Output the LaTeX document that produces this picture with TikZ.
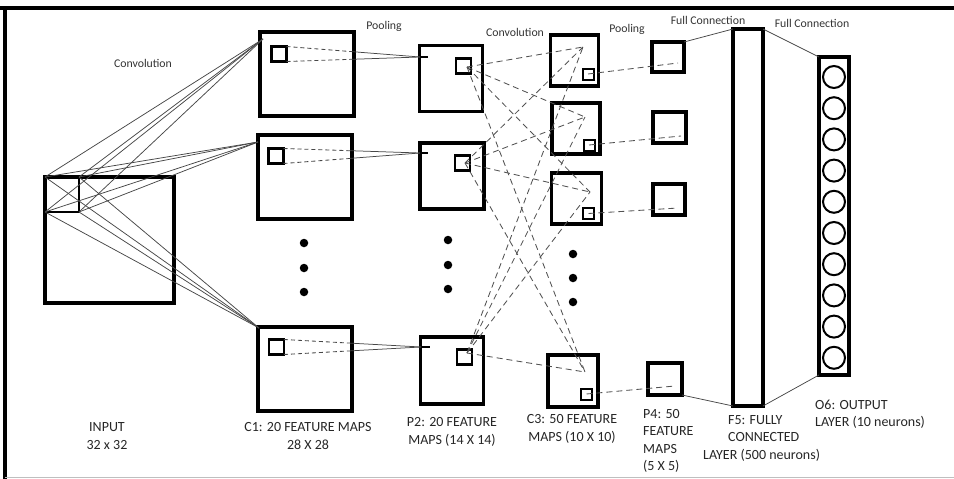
\documentclass[tikz,border=0pt]{standalone}
\usepackage{fontspec}
\setmainfont{Carlito}
\usetikzlibrary{calc}
\begin{document}
\begin{tikzpicture}[x=1pt,y=-1pt,
  box/.style={draw=black,line width=3.2pt,inner sep=0pt,outer sep=0pt,fill=none},
  sbox/.style={draw=black,line width=2.2pt,inner sep=0pt,outer sep=0pt,minimum width=15pt,minimum height=15pt},
  tbox/.style={draw=black,line width=2pt,inner sep=0pt,outer sep=0pt,minimum width=11pt,minimum height=11pt},
  conn/.style={draw=black!72,line width=0.75pt},
  cdash/.style={draw=black!72,line width=0.85pt,dash pattern=on 4pt off 3pt},
  ldash/.style={draw=black!68,line width=0.85pt,dash pattern=on 6pt off 4pt},
  neuron/.style={circle,draw=black,line width=2pt,minimum size=22pt,inner sep=0pt},
  dotn/.style={circle,fill=black,inner sep=0pt,minimum size=8.5pt},
  toplbl/.style={font=\fontsize{11.8}{14}\selectfont,text=black!80,inner sep=0pt},
  lbl/.style={font=\fontsize{14}{17.5}\selectfont,text=black!85,inner sep=0pt,align=center},
  lbll/.style={font=\fontsize{14}{17.5}\selectfont,text=black!85,inner sep=0pt,align=left,anchor=west}
]
\useasboundingbox (0,0) rectangle (954,479);
% frame
\draw[line width=4pt] (0,8) -- (954,8);
\draw[line width=4pt] (5,6) -- (5,479);
\draw[black!25,line width=1pt] (5,477) -- (954,477);

% input
\node[box,minimum width=129pt,minimum height=126pt] (in) at (109.5,240) {};
\node[box,line width=2.4pt,minimum width=34pt,minimum height=35pt] (ins) at (62,194.5) {};

% C1
\node[box,minimum width=94pt,minimum height=84pt] (c1a) at (307,74) {};
\node[sbox] (c1as) at (279,54) {};
\node[box,minimum width=94pt,minimum height=84pt] (c1b) at (305,177) {};
\node[sbox] (c1bs) at (276,156) {};
\node[box,minimum width=94pt,minimum height=84pt] (c1c) at (305,369) {};
\node[sbox] (c1cs) at (276.5,347) {};
\node[dotn] (d1a) at (304,243) {};
\node[dotn] (d1b) at (304,268) {};
\node[dotn] (d1c) at (304,292) {};

% P2
\node[box,minimum width=63pt,minimum height=66pt] (p2a) at (451,78.5) {};
\node[sbox] (p2as) at (463.5,66) {};
\node[box,minimum width=64pt,minimum height=66pt] (p2b) at (452,176) {};
\node[sbox] (p2bs) at (462.5,163) {};
\node[box,minimum width=63pt,minimum height=67pt] (p2c) at (452,370.5) {};
\node[sbox] (p2cs) at (464.5,357) {};
\node[dotn] (d2a) at (448,240) {};
\node[dotn] (d2b) at (448,265) {};
\node[dotn] (d2c) at (448,289) {};

% C3
\node[box,minimum width=48pt,minimum height=51pt] (c3a) at (574.5,60.5) {};
\node[tbox] (c3as) at (588,74) {};
\node[box,minimum width=48pt,minimum height=51pt] (c3b) at (576,128.5) {};
\node[tbox] (c3bs) at (589,145) {};
\node[box,minimum width=50pt,minimum height=51pt] (c3c) at (576.5,198.5) {};
\node[tbox] (c3cs) at (588.5,213.5) {};
\node[box,minimum width=50pt,minimum height=52pt] (c3d) at (573,381) {};
\node[tbox] (c3ds) at (586.5,394) {};
\node[dotn] (d3a) at (573,254) {};
\node[dotn] (d3b) at (573,278) {};
\node[dotn] (d3c) at (573,302) {};

% P4
\node[box,minimum width=32pt,minimum height=30pt] (p4a) at (668,57) {};
\node[box,minimum width=33pt,minimum height=31pt] (p4b) at (669.5,127.5) {};
\node[box,minimum width=32pt,minimum height=31pt] (p4c) at (669,199.5) {};
\node[box,minimum width=34pt,minimum height=32pt] (p4d) at (665,379) {};

% F5
\node[box,minimum width=30pt,minimum height=377pt] (f5) at (748,217.5) {};
% O6
\node[box,minimum width=30pt,minimum height=318pt] (o6) at (834,216) {};
\foreach \i in {0,...,9} {
  \node[neuron] (n\i) at (834,{77+31.2*\i}) {};
}

% ---------- input -> C1 ----------
\coordinate (k1) at (263,39);
\coordinate (k2) at (258,142);
\coordinate (k3) at (259,328);
\foreach \k in {k1,k2,k3} {
  \foreach \a in {north west,north east,south west,south east} {
    \draw[conn] (ins.\a) -- (\k);
  }
}

% ---------- C1 -> P2 ----------
\coordinate (q1) at (420,57);   \coordinate (q1e) at (428,57);
\coordinate (q2) at (420,153);  \coordinate (q2e) at (428,153);
\coordinate (q3) at (421,347);  \coordinate (q3e) at (430,347);
\foreach \s/\q in {c1as/q1,c1bs/q2,c1cs/q3} {
  \foreach \a in {north east,south east} {
    \draw[cdash] (\s.\a) -- ($(\s.\a)!0.47!(\q)$);
    \draw[conn] ($(\s.\a)!0.47!(\q)$) -- (\q);
  }
}
\draw[black,line width=1.2pt] (q1) -- (q1e);
\draw[black,line width=1.2pt] (q2) -- (q2e);
\draw[black,line width=1.2pt] (q3) -- (q3e);

% ---------- P2 -> C3 ----------
\coordinate (p21) at (467,67);
\coordinate (p22) at (465,163);
\coordinate (p23) at (467,353);
\coordinate (c31) at (583,47);
\coordinate (c32) at (585,117);
\coordinate (c33) at (590,192);
\coordinate (c34) at (585,372);
\foreach \p in {p21,p22,p23} {
  \foreach \c in {c31,c32,c33,c34} {
    \draw[ldash] (\p) -- (\c);
  }
}

% ---------- C3 -> P4 ----------
\coordinate (r1) at (678,63);
\coordinate (r2) at (681,136);
\coordinate (r3) at (678,208);
\coordinate (r4) at (675,386);
\draw[ldash] (c3as.center) -- (r1);
\draw[ldash] (c3bs.center) -- (r2);
\draw[ldash] (c3cs.center) -- (r3);
\draw[ldash] (c3ds.center) -- (r4);

% ---------- P4 -> F5 -> O6 ----------
\draw[conn] (p4a.north east) -- (f5.north west);
\draw[conn] (p4d.south east) -- (f5.south west);
\draw[conn] (f5.north east) -- (o6.north west);
\draw[conn] (f5.south east) -- (o6.south west);

% ---------- labels ----------
\node[toplbl] (t1) at (143,63) {Convolution};
\node[toplbl] (t2) at (384,26) {Pooling};
\node[toplbl] (t3) at (515,32) {Convolution};
\node[toplbl] (t4) at (627,29) {Pooling};
\node[toplbl] (t5) at (708,20) {Full Connection};
\node[toplbl] (t6) at (812,23) {Full Connection};

\node[lbl] (l1) at (107,436) {INPUT\\32 x 32};
\node[lbl] (l2) at (308,436) {C1: 20 FEATURE MAPS\\28 X 28};
\node[lbl] (l3) at (452,432) {P2: 20 FEATURE\\MAPS (14 X 14)};
\node[lbl] (l4) at (572,429) {C3: 50 FEATURE\\MAPS (10 X 10)};
\node[lbll] (l5) at (643,441) {P4: 50\\FEATURE\\MAPS\\(5 X 5)};
\node[lbll] (l6a) at (728,420) {F5: FULLY};
\node[lbll] (l6b) at (728,437) {CONNECTED};
\node[lbll] (l6c) at (703,455) {LAYER (500 neurons)};
\node[lbll] (l7) at (815,414) {O6: OUTPUT\\LAYER (10 neurons)};
\end{tikzpicture}
\end{document}
